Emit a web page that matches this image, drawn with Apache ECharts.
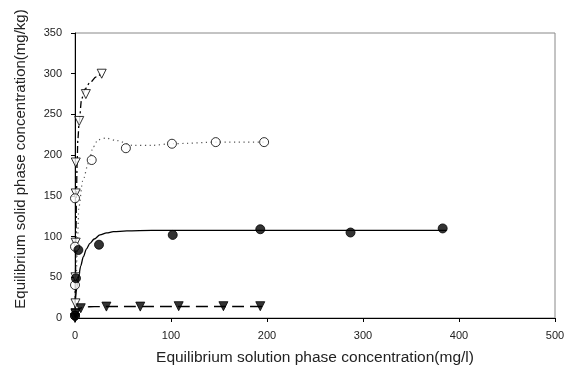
<!DOCTYPE html>
<html>
<head>
<meta charset="utf-8">
<script src="https://cdn.jsdelivr.net/npm/echarts@6/dist/echarts.min.js"></script>
<style>
  html, body { margin: 0; padding: 0; background: #fff; }
  #main { width: 585px; height: 372px; }
</style>
</head>
<body>
<div id="main"></div>
<script>
// measured points (x = mg/l, y = mg/kg)
const openTriX = [0.5, 0.5, 0.5, 0.7, 0.7, 0.8, 4.4, 11.3, 27.8];
const openTriY = [5, 18, 50, 92.5, 153, 191, 242, 275, 300];

const openCircX = [0, 0, 0, 0, 17.4, 53, 101, 146.6, 197];
const openCircY = [3, 40.5, 87.6, 147, 194, 208.5, 214, 216, 216];

const filledCircX = [0, 1, 3.5, 25, 101.8, 193, 287, 383];
const filledCircY = [3, 48.8, 83.5, 90, 102, 109, 105, 110];

const filledTriX = [0, 0.5, 6, 32.7, 68, 108, 154.6, 193];
const filledTriY = [0, 6, 12, 14, 14, 14.5, 14.5, 14.5];

// fitted curves
const dashDotX = [0, 0.5, 1, 1.5, 2.2, 3, 4.4, 6.9, 10.3, 15.5, 22, 27.8];
const dashDotY = [0, 50, 100, 150, 190, 220, 242, 269, 281, 289, 296, 300.7];

const dottedX = [0, 1, 2.5, 4, 8, 14, 19, 24, 32, 43, 60, 80, 100, 150, 200];
const dottedY = [0, 40, 90, 136, 168, 190, 210, 219, 221, 218, 212, 212, 214, 216, 216];

const solidX = [0.3, 2, 3.5, 6, 8.6, 12, 15.6, 20, 26, 33, 40, 54, 80, 100, 200, 387];
const solidY = [20, 38, 49, 64, 75, 85, 91.7, 97, 102, 104.5, 106, 107, 107.5, 107.5, 107.5, 107.5];

const dashedX = [0, 2, 5, 10, 20, 60, 100, 195];
const dashedY = [2, 8, 12, 13.5, 14, 14.2, 14.2, 14.2];

const xTitle = "Equilibrium solution phase concentration(mg/l)";
const yTitle = "Equilibrium solid phase concentration(mg/kg)";

function pairs(xs, ys) {
  return xs.map((x, i) => [x, ys[i]]);
}

const chart = echarts.init(document.getElementById("main"));

const font = "Liberation Sans, Arial, sans-serif";

function curve(xs, ys, lineType, color, width) {
  return {
    type: "line",
    data: pairs(xs, ys),
    showSymbol: false,
    smooth: 0.3,
    smoothMonotone: "x",
    lineStyle: { color: color, width: width, type: lineType },
    z: 2,
    silent: true,
  };
}

function points(xs, ys, symbol, rotate, fill) {
  return {
    type: "scatter",
    data: pairs(xs, ys),
    symbol: symbol,
    symbolRotate: rotate,
    symbolSize: 9,
    itemStyle: { color: fill, borderColor: "#000", borderWidth: 1 },
    z: 3,
  };
}

chart.setOption({
  animation: false,
  grid: {
    left: 75,
    right: 30,
    top: 33,
    bottom: 54,
    show: true,
    borderColor: "#888",
    borderWidth: 1,
  },
  graphic: [
    {
      type: "text",
      x: 21,
      y: 159,
      rotation: Math.PI / 2,
      style: {
        text: yTitle,
        font: "15px " + font,
        fill: "#222",
        textAlign: "center",
        textVerticalAlign: "middle",
      },
    },
  ],
  xAxis: {
    type: "value",
    min: 0,
    max: 500,
    interval: 100,
    name: xTitle,
    nameLocation: "middle",
    nameGap: 32,
    nameTextStyle: { fontFamily: font, fontSize: 15.5, color: "#222" },
    axisLine: { show: true, lineStyle: { color: "#000", width: 1 } },
    axisTick: { show: true, inside: false, length: 4, lineStyle: { color: "#000" } },
    axisLabel: { fontFamily: font, fontSize: 11, color: "#222", margin: 12 },
    splitLine: { show: false },
  },
  yAxis: {
    type: "value",
    min: 0,
    max: 350,
    interval: 50,
    axisLine: { show: true, lineStyle: { color: "#000", width: 1 } },
    axisTick: { show: true, inside: false, length: 4, lineStyle: { color: "#000" } },
    axisLabel: { fontFamily: font, fontSize: 11, color: "#222", margin: 13 },
    splitLine: { show: false },
  },
  series: [
    curve(dashDotX, dashDotY, [7, 3, 2, 3], "#000", 1.3),
    curve(dottedX, dottedY, [1.2, 3.5], "#555", 1.2),
    curve(solidX, solidY, "solid", "#000", 1.3),
    curve(dashedX, dashedY, [12, 6], "#000", 1.4),
    points(openTriX, openTriY, "triangle", 180, "#fff"),
    points(openCircX, openCircY, "circle", 0, "#fff"),
    points(filledCircX, filledCircY, "circle", 0, "#000"),
    points(filledTriX, filledTriY, "triangle", 180, "#000"),
  ],
});
</script>
</body>
</html>
